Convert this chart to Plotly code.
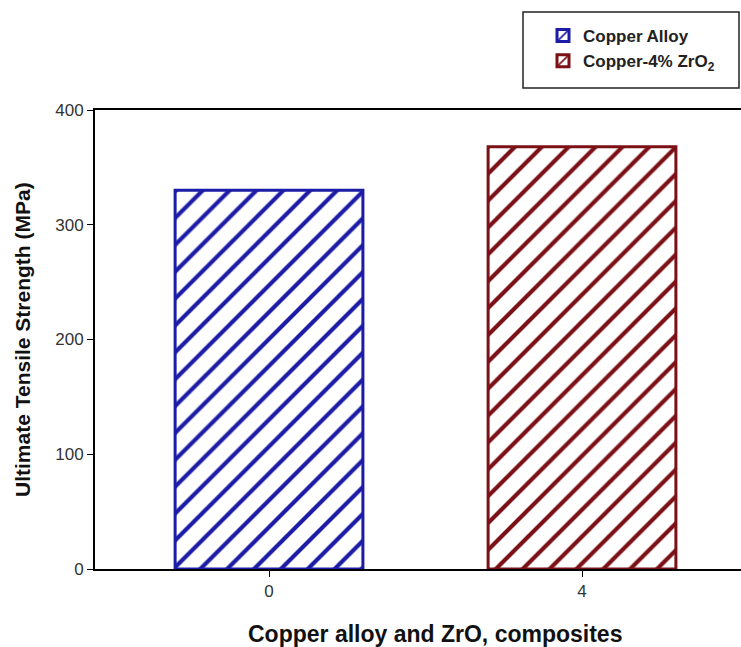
import plotly.graph_objects as go

categories = ["0", "4"]
series_names = ["Copper Alloy", "Copper-4% ZrO<sub>2</sub>"]
values = [330, 368]
colors = ["#1c1ca6", "#7b1116"]
y_ticks = [0, 100, 200, 300, 400]

FONT = "Liberation Sans, Arial, sans-serif"
W, H = 741, 647
L, R, T, B = 95, 0, 110, 78
PW, PH = W - L - R, H - T - B

fig = go.Figure()
for cat, name, val, col in zip(categories, series_names, values, colors):
    fig.add_trace(go.Bar(
        x=[cat], y=[val], name=name, width=0.6,
        marker=dict(
            color="white",
            line=dict(color=col, width=3),
            pattern=dict(shape="/", fgcolor=col, bgcolor="white", fgopacity=1,
                         size=19, solidity=0.22),
        ),
    ))

fig.update_layout(
    width=W, height=H,
    margin=dict(l=L, r=R, t=T, b=B, autoexpand=False),
    paper_bgcolor="white", plot_bgcolor="white",
    barmode="overlay",
    font=dict(family=FONT, color="#333333", size=12),
    showlegend=True,
    legend=dict(
        xref="container", yref="container",
        x=543 / W, y=1 - 18 / H, xanchor="left", yanchor="top",
        borderwidth=0, bgcolor="rgba(0,0,0,0)",
        font=dict(family=FONT, size=17, color="#222222", weight="bold"),
        tracegroupgap=0,
    ),
    xaxis=dict(
        type="category", categoryorder="array", categoryarray=categories,
        range=[-0.556, 1.508], automargin=False,
        showline=True, linecolor="black", linewidth=2, mirror=True,
        ticks="outside", ticklen=6, tickcolor="black", tickwidth=1,
        showgrid=False, zeroline=False,
        tickfont=dict(family=FONT, size=17, color="#333333"),
    ),
    yaxis=dict(
        range=[0, 400], tickvals=y_ticks, automargin=False,
        showline=True, linecolor="black", linewidth=2,
        ticks="outside", ticklen=6, tickcolor="black", tickwidth=1,
        showgrid=False, zeroline=False,
        tickfont=dict(family=FONT, size=17, color="#333333"),
    ),
    shapes=[dict(
        type="rect", xref="paper", yref="paper",
        x0=(523 - L) / PW, x1=(739 - L) / PW,
        y0=(H - B - 88) / PH, y1=(H - B - 12) / PH,
        line=dict(color="#222222", width=1.5), fillcolor="rgba(0,0,0,0)",
        layer="above",
    )],
)

fig.add_annotation(
    text="<b>Ultimate Tensile Strength (MPa)</b>", textangle=-90,
    xref="paper", yref="paper", x=(22 - L) / PW, y=(H - B - 340) / PH,
    xanchor="center", yanchor="middle",
    showarrow=False, font=dict(family=FONT, size=21, color="#111111"),
)
fig.add_annotation(
    text="<b>Copper alloy and ZrO, composites</b>",
    xref="paper", yref="paper", x=(435 - L) / PW, y=(H - B - 634) / PH,
    xanchor="center", yanchor="middle",
    showarrow=False, font=dict(family=FONT, size=23, color="#111111"),
)

fig.write_html(
    "out.html",
    config={"displayModeBar": False},
    post_script="document.body.style.margin='0';document.body.style.overflow='hidden';",
)
